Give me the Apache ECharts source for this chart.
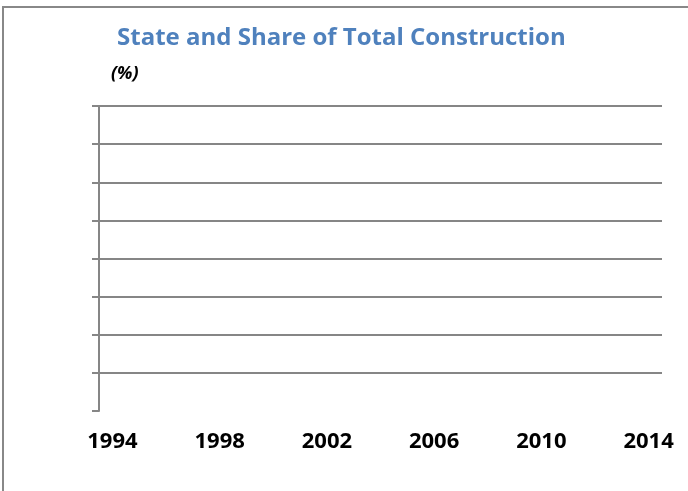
<!DOCTYPE html>
<html>
<head>
<meta charset="utf-8">
<script src="https://cdn.jsdelivr.net/npm/echarts@6/dist/echarts.min.js"></script>
<style>
  html, body { margin: 0; padding: 0; background: #fff; }
  #main { width: 688px; height: 491px; }
</style>
</head>
<body>
<div id="main"></div>
<script>
// years on the category axis (every 4th one is labelled)
var years = [];
for (var y = 1994; y <= 2014; y++) years.push(String(y));
// value axis ticks (%), no labels are shown
var yTicks = [0, 10, 20, 30, 40, 50, 60, 70, 80];
// the chart carries no plotted values
var stateShare = [];

var chartDom = document.getElementById('main');
var myChart = echarts.init(chartDom);
var option = {
  animation: false,
  title: [
    {
      text: 'State and Share of Total Construction',
      left: 112,
      top: 21,
      textStyle: { color: '#4F81BD', fontFamily: 'Open Sans', fontWeight: 'bold', fontSize: 24 }
    },
    {
      text: '(%)',
      left: 106,
      top: 60,
      textStyle: { color: '#000', fontFamily: 'Open Sans', fontWeight: 'bold', fontStyle: 'italic', fontSize: 18 }
    }
  ],
  graphic: [
    {
      // outer chart frame, cut off at the right and bottom
      type: 'rect',
      shape: { x: 3, y: 7, width: 700, height: 500 },
      style: { fill: 'none', stroke: '#888', lineWidth: 2 },
      silent: true
    }
  ],
  grid: { left: 99, right: 26, top: 106, bottom: 80 },
  xAxis: {
    type: 'category',
    data: years,
    boundaryGap: true,
    axisLine: { show: false },
    axisTick: { show: false },
    axisLabel: {
      interval: 3,
      margin: 20,
      color: '#000',
      fontFamily: 'Open Sans',
      fontWeight: 'bold',
      fontSize: 22
    }
  },
  yAxis: {
    type: 'value',
    min: yTicks[0],
    max: yTicks[yTicks.length - 1],
    interval: 10,
    axisLine: { show: true, lineStyle: { color: '#868686', width: 2 } },
    axisTick: { show: true, length: 7, lineStyle: { color: '#868686', width: 2 } },
    axisLabel: { show: false },
    splitLine: { show: true, showMinLine: false, lineStyle: { color: '#868686', width: 2 } }
  },
  series: [
    {
      name: 'State share',
      type: 'line',
      data: stateShare
    }
  ]
};
myChart.setOption(option);
</script>
</body>
</html>
